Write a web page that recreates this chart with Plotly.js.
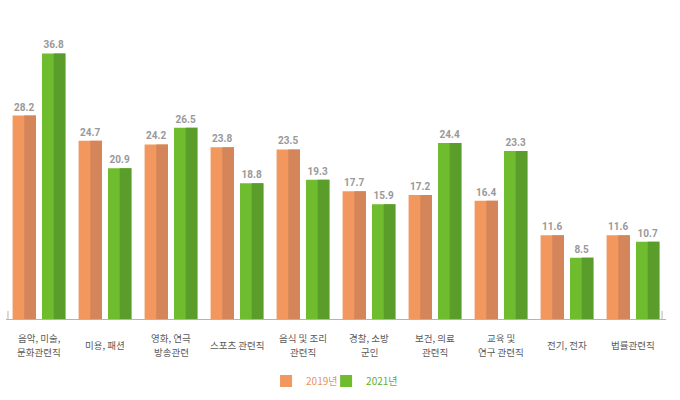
<!DOCTYPE html>
<html>
<head>
<meta charset="utf-8">
<script src="https://cdn.plot.ly/plotly-3.0.1.min.js"></script>
<style>html,body{margin:0;padding:0;background:#fff;}#chart{width:680px;height:400px;}</style>
</head>
<body>
<div id="chart"></div>
<script>
const categories = ['음악, 미술,<br>문화관련직','미용, 패션','영화, 연극<br>방송관련','스포츠 관련직','음식 및 조리<br>관련직','경찰, 소방<br>군인','보건, 의료<br>관련직','교육 및<br>연구 관련직','전기, 전자','법률관련직'];
const series2019 = [28.2, 24.7, 24.2, 23.8, 23.5, 17.7, 17.2, 16.4, 11.6, 11.6];
const series2021 = [36.8, 20.9, 26.5, 18.8, 19.3, 15.9, 24.4, 23.3, 8.5, 10.7];
const seriesNames = ['2019년', '2021년'];

const full = 0.3545, half = full / 2;
const orangeLight = '#F2985F', orangeDark = '#D5855A';
const greenLight = '#6FBD2E', greenDark = '#5A9D2A';
const labelFont = {family: 'Roboto, sans-serif', size: 10, color: '#999999', weight: 'bold'};

function fmt(v){ return v.toFixed(1); }

const traces = [
  {type:'bar', x: categories, y: series2019, width: full, offset: -0.4,
   marker:{color: orangeLight}, name: '<span style="color:#E8935C">' + seriesNames[0] + '</span>',
   text: series2019.map(fmt), textposition:'outside', textfont: labelFont, cliponaxis:false,
   legend:'legend'},
  {type:'bar', x: categories, y: series2019, width: half, offset: -0.4 + half,
   marker:{color: orangeDark}, showlegend:false, hoverinfo:'skip'},
  {type:'bar', x: categories, y: series2021, width: full, offset: 0.0455,
   marker:{color: greenLight}, name: '<span style="color:#62B02A">' + seriesNames[1] + '</span>',
   text: series2021.map(fmt), textposition:'outside', textfont: labelFont, cliponaxis:false,
   legend:'legend2'},
  {type:'bar', x: categories, y: series2021, width: half, offset: 0.0455 + half,
   marker:{color: greenDark}, showlegend:false, hoverinfo:'skip'}
];

// category labels: one annotation per text line, centred under each group
const plotBottomPx = 320, plotHeightPx = 300, labelCenterPx = 346, lineStepPx = 13.5;
const annotations = [];
categories.forEach(c => {
  const lines = c.split('<br>');
  const n = lines.length;
  lines.forEach((ln, i) => {
    const ypx = labelCenterPx + (i - (n - 1) / 2) * lineStepPx;
    annotations.push({
      x: c, xref:'x', y: -(ypx - plotBottomPx) / plotHeightPx, yref:'paper',
      yanchor:'middle', xanchor:'center', text: ln, showarrow:false,
      font:{family:'"Noto Sans CJK KR", sans-serif', size:9.5, color:'#5a5a5a'}
    });
  });
});

const legendStyle = {orientation:'h', xanchor:'left', y:-0.203, yanchor:'middle',
  font:{family:'"Noto Sans CJK KR", sans-serif', size:10}, itemwidth:30, bgcolor:'rgba(0,0,0,0)'};

const layout = {
  width: 680, height: 400,
  margin: {l: 6, r: 14, t: 20, b: 80},
  paper_bgcolor: '#ffffff', plot_bgcolor: '#ffffff',
  barmode: 'overlay',
  xaxis: {type:'category', showticklabels:false, ticks:'', showgrid:false, zeroline:false,
          showline:true, linecolor:'#b4b4b4', linewidth:1, range:[-0.5, 9.5], fixedrange:true},
  yaxis: {range:[0, 41.44], visible:false, fixedrange:true},
  showlegend: true,
  legend: Object.assign({}, legendStyle, {x:0.394}),
  legend2: Object.assign({}, legendStyle, {x:0.485}),
  annotations: annotations,
  shapes: [
    {type:'line', xref:'paper', yref:'paper', x0:0.003, x1:0.003, y0:0, y1:0.027, line:{color:'#b4b4b4', width:1}},
    {type:'line', xref:'paper', yref:'paper', x0:0.994, x1:0.994, y0:0, y1:0.027, line:{color:'#b4b4b4', width:1}}
  ]
};

Plotly.newPlot('chart', traces, layout, {displayModeBar:false, staticPlot:true});
</script>
</body>
</html>
